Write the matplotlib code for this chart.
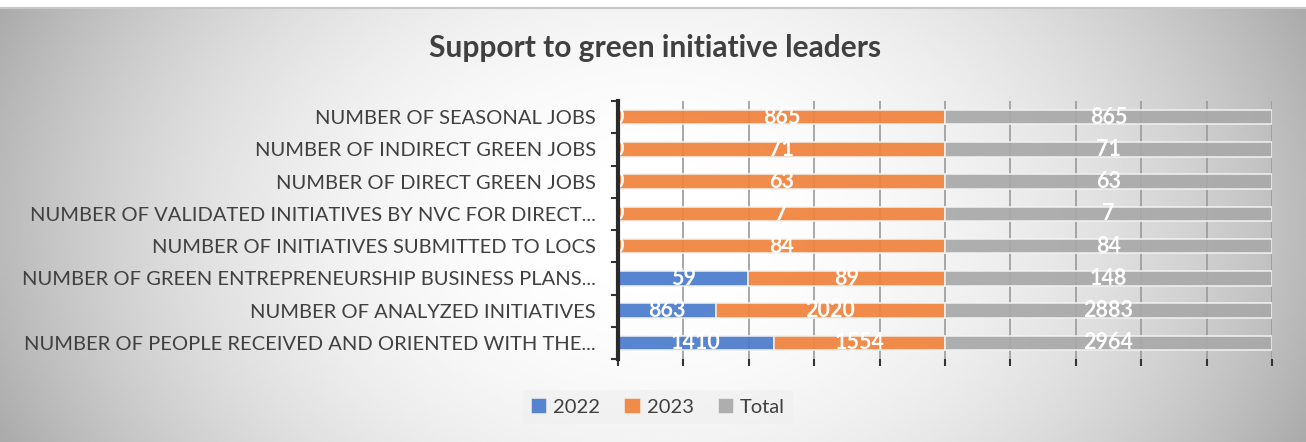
import numpy as np
import matplotlib
matplotlib.use("Agg")
import matplotlib.pyplot as plt

plt.rcParams['font.family'] = ['Lato', 'DejaVu Sans']

categories = [
    "NUMBER OF PEOPLE RECEIVED AND ORIENTED WITH THE...",
    "NUMBER OF ANALYZED INITIATIVES",
    "NUMBER OF GREEN ENTREPRENEURSHIP BUSINESS PLANS...",
    "NUMBER OF INITIATIVES SUBMITTED TO LOCS",
    "NUMBER OF VALIDATED INITIATIVES BY NVC FOR DIRECT...",
    "NUMBER OF DIRECT GREEN JOBS",
    "NUMBER OF INDIRECT GREEN JOBS",
    "NUMBER OF SEASONAL JOBS",
]
v2022 = [1410, 863, 59, 0, 0, 0, 0, 0]
v2023 = [1554, 2020, 89, 84, 7, 63, 71, 865]
vtotal = [2964, 2883, 148, 84, 7, 63, 71, 865]

series = [("2022", v2022, "#4a7bcb"), ("2023", v2023, "#f0823c"), ("Total", vtotal, "#a9a9a9")]

fig = plt.figure(figsize=(13.06, 4.42), dpi=100)

# background gradient
bg = fig.add_axes([0, 0, 1, 1 - 8 / 442])
xx, yy = np.meshgrid(np.linspace(-1, 1, 400), np.linspace(-1, 1, 150))
r = np.sqrt((xx / 1.0) ** 2 + (yy / 2.2) ** 2)
shade = 1 - 0.27 * np.clip(r, 0, 1.2) ** 2.2
bg.imshow(shade, cmap="gray", vmin=0, vmax=1, aspect="auto", extent=[0, 1, 0, 1])
bg.axis("off")
fig.add_artist(plt.Line2D([0, 1], [1 - 8 / 442, 1 - 8 / 442], color="#c8c8c8", lw=1.5,
                          transform=fig.transFigure))

ax = fig.add_axes([618 / 1306, 83 / 442, 654 / 1306, 258 / 442])
ax.set_facecolor("none")

y = np.arange(len(categories))
totals = np.array(v2022) + np.array(v2023) + np.array(vtotal)
left = np.zeros(len(categories))
for name, vals, col in series:
    frac = np.array(vals) / totals
    ax.barh(y, frac, left=left, height=0.45, color=col, alpha=0.92,
            edgecolor="#f2f2f2", linewidth=1.2, label=name, zorder=2)
    for i, v in enumerate(vals):
        ax.text(left[i] + frac[i] / 2, y[i], str(v), ha="center", va="center",
                color="white", fontsize=15.5, fontweight="bold", zorder=3)
    left += frac

ax.set_xlim(0, 1)
ax.set_ylim(-0.5, len(categories) - 0.5)
ax.set_xticks(np.linspace(0, 1, 11))
ax.set_xticklabels([])
ax.grid(axis="x", color="#9a9a9a", lw=1.2, zorder=0)
ax.set_axisbelow(True)
ax.tick_params(axis="x", length=5, width=1.5, color="#333333", direction="out")
ax.set_yticks(y)
ax.set_yticklabels(categories, fontsize=14.5, color="#404040")
ax.tick_params(axis="y", length=0, pad=16)
ax.set_yticks(np.arange(-0.5, len(categories), 1), minor=True)
ax.tick_params(axis="y", which="minor", length=5, width=1.5, color="#333333")
for s in ["top", "right", "bottom"]:
    ax.spines[s].set_visible(False)
ax.spines["left"].set_linewidth(3)
ax.spines["left"].set_color("#2a2a2a")
ax.spines["left"].set_zorder(4)

fig.suptitle("Support to green initiative leaders", x=655 / 1306, y=1 - 48 / 442, va="center",
             fontsize=21.5, fontweight="bold", color="#404040")

leg = fig.legend(loc="center", bbox_to_anchor=(658 / 1306, 1 - 407 / 442), ncol=3,
                 frameon=True, fontsize=14.5, handlelength=0.8, handleheight=0.8,
                 handletextpad=0.3, columnspacing=1.2, fancybox=False)
leg.get_frame().set_facecolor("#f0f0f0")
leg.get_frame().set_edgecolor("none")
leg.get_frame().set_alpha(0.7)
for t in leg.get_texts():
    t.set_color("#404040")

fig.savefig("out.png", dpi=100)
